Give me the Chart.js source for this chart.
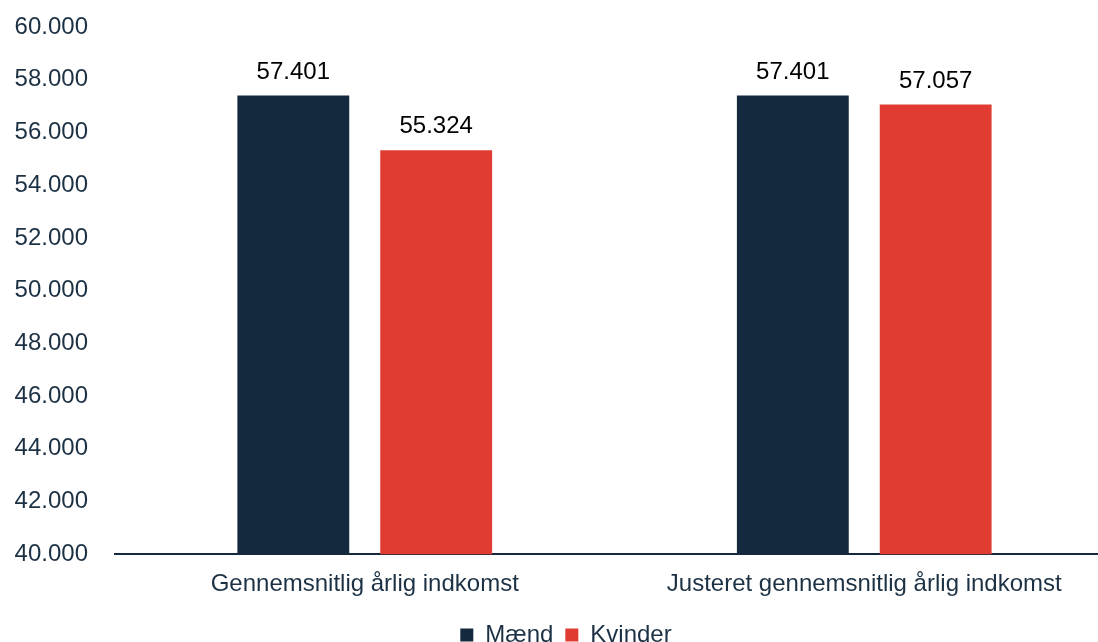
<!DOCTYPE html>
<html>
<head>
<meta charset="utf-8">
<script src="https://cdn.jsdelivr.net/npm/chart.js@4/dist/chart.umd.min.js"></script>
<style>
  html, body { margin: 0; padding: 0; background: #fff; }
  #wrap { width: 1098px; height: 642px; overflow: hidden; position: relative; }
  #chart { position: absolute; left: 0; top: 0; }
</style>
</head>
<body>
<div id="wrap"><canvas id="chart" width="1114" height="657"></canvas></div>
<script>
const categories = ['Gennemsnitlig årlig indkomst', 'Justeret gennemsnitlig årlig indkomst'];
const seriesNames = ['Mænd', 'Kvinder'];
const maendValues = [57401, 57401];
const kvinderValues = [55324, 57057];
const yTicks = [40000, 42000, 44000, 46000, 48000, 50000, 52000, 54000, 56000, 58000, 60000];

const navy = '#14293d',
    red = '#e03c32',
    textColor = '#1c3144',
    fontFamily = '"Liberation Sans", Arial, sans-serif';

function fmt(v) {
    return String(v).replace(/\B(?=(\d{3})+(?!\d))/g, '.');
}

// value labels above each bar
const barLabels = {
    id: 'barLabels',
    afterDatasetsDraw(chart) {
        const ctx = chart.ctx;
        ctx.save();
        ctx.font = '24px ' + fontFamily;
        ctx.fillStyle = '#000';
        ctx.textAlign = 'center';
        ctx.textBaseline = 'alphabetic';
        chart.data.datasets.forEach(function (ds, i) {
            chart.getDatasetMeta(i).data.forEach(function (bar, j) {
                ctx.fillText(fmt(ds.data[j]), bar.x, bar.y - 17);
            });
        });
        ctx.restore();
    }
};

// nudge the legend a bit to the right like the original
const legendShift = {
    id: 'legendShift',
    afterLayout(chart) {
        chart.legend.left += 9;
        chart.legend.right += 9;
    }
};

new Chart(document.getElementById('chart'), {
    type: 'bar',
    data: {
        labels: categories,
        datasets: [
            { label: seriesNames[0], data: maendValues, backgroundColor: navy },
            { label: seriesNames[1], data: kvinderValues, backgroundColor: red }
        ]
    },
    options: {
        responsive: false,
        animation: false,
        layout: { padding: { top: 27, left: 0, right: 0, bottom: 0 } },
        datasets: {
            bar: { categoryPercentage: 0.572, barPercentage: 0.783 }
        },
        scales: {
            x: {
                afterFit: function (scale) {
                    scale.height += 4;
                },
                grid: { display: false },
                border: { display: true, color: navy, width: 2 },
                ticks: {
                    color: textColor,
                    font: { family: fontFamily, size: 24 },
                    padding: 8
                }
            },
            y: {
                min: 40000,
                max: 60000,
                afterBuildTicks: function (scale) {
                    scale.ticks = yTicks.map(v => ({ value: v }));
                },
                afterFit: function (scale) {
                    scale.width = 115;
                    scale.paddingTop = 0;
                    scale.paddingBottom = 0;
                },
                grid: { display: false },
                border: { display: false },
                ticks: {
                    color: textColor,
                    font: { family: fontFamily, size: 24 },
                    padding: 19,
                    callback: function (value) {
                        return fmt(value);
                    }
                }
            }
        },
        plugins: {
            legend: {
                position: 'bottom',
                labels: {
                    color: textColor,
                    boxWidth: 13,
                    boxHeight: 13,
                    padding: 12,
                    font: { family: fontFamily, size: 24 }
                }
            },
            tooltip: { enabled: false }
        }
    },
    plugins: [barLabels, legendShift]
});
</script>
</body>
</html>
